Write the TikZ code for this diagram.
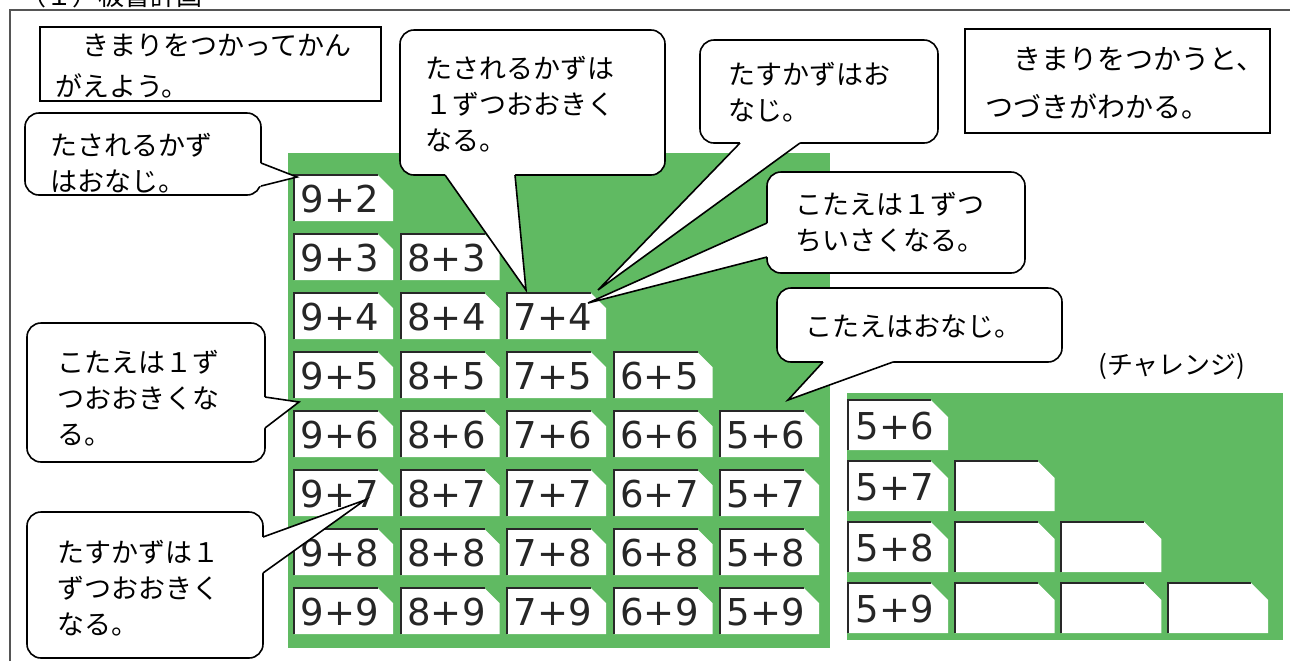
\documentclass[tikz,border=0pt]{standalone}
\usepackage{fontspec}
\newfontfamily\jpf{Noto Sans CJK JP}
\newfontfamily\numf{DejaVu Sans}
\definecolor{bgreen}{RGB}{96,186,98}
\definecolor{cardline}{RGB}{40,40,40}
\definecolor{frameline}{RGB}{85,85,85}
\tikzset{
  cl/.style={line width=0.8pt, draw=black},
  callbox/.style={cl, fill=white, rounded corners=7pt},
  wedgefill/.style={fill=white},
  jtext/.style={font=\jpf\fontsize{13.5pt}{18pt}\selectfont, align=left, inner sep=0pt, anchor=west, text=black},
  cardtxt/.style={font=\numf\fontsize{18.5pt}{20pt}\selectfont, inner sep=0pt, text=black!85},
  board/.style={fill=bgreen},
  plainbox/.style={draw=black, line width=1.3pt, fill=white},
}
\newcommand\cardshape[5]{% left top w h cut
  \fill[white] (#1,#2) -- ({#1+#3-#5},#2) -- ({#1+#3},{#2+#5}) -- ({#1+#3},{#2+#4}) -- (#1,{#2+#4}) -- cycle;
  \draw[cardline, line width=1pt] (#1,{#2+#4}) -- (#1,#2) -- ({#1+#3-#5},#2);
}
\begin{document}
\begin{tikzpicture}[x=0.5pt,y=-0.5pt]
\useasboundingbox (0,0) rectangle (1290,661);
\fill[white] (0,0) rectangle (1290,661);

% heading (cut by the page edge, as in the reference)
\node[font=\jpf\fontsize{13pt}{15pt}\selectfont, anchor=west, inner sep=0pt] (title) at (20,-4) {（１）板書計画};
\draw[frameline, line width=1pt] (10,661) -- (10,10) -- (1290,10);

% top boxes
\draw[plainbox] (40,27) rectangle (381,101);
\node[jtext, font=\jpf\fontsize{13.5pt}{20.5pt}\selectfont] (goal) at (55,66) {　きまりをつかってかん\\がえよう。};
\draw[plainbox, line width=1pt] (965,29) rectangle (1270,133);
\node[jtext, font=\jpf\fontsize{14pt}{24pt}\selectfont] (summary) at (985,83) {　きまりをつかうと、\\つづきがわかる。};

% main board
\fill[board] (288,153) rectangle (830,648);
\foreach \r in {0,...,7} {
  \foreach \c in {0,...,4} {
    \ifnum\c>\r\relax\else
      \pgfmathsetmacro\L{294+106.5*\c}
      \pgfmathsetmacro\T{175+59*\r}
      \pgfmathtruncatemacro\va{9-\c}
      \pgfmathtruncatemacro\vb{\r+2}
      \cardshape{\L}{\T}{99}{46}{15}
      \node[cardtxt] (m-\c-\r) at (\L+46,\T+24) {\va+\vb};
    \fi
  }
}

% challenge board
\node[font=\jpf\fontsize{13pt}{15pt}\selectfont, inner sep=0pt] (chal) at (1172,366) {(チャレンジ)};
\fill[board] (847,393) rectangle (1283,640);
\foreach \r in {0,...,3} {
  \foreach \c in {0,...,3} {
    \ifnum\c>\r\relax\else
      \pgfmathsetmacro\L{848+106.7*\c}
      \pgfmathsetmacro\T{400+61*\r}
      \pgfmathtruncatemacro\vb{\r+6}
      \cardshape{\L}{\T}{100}{50}{17}
      \ifnum\c=0
        \node[cardtxt] (ch-\r) at (\L+47,\T+26) {5+\vb};
      \fi
    \fi
  }
}

% callout 1
\draw[callbox] (25,113) rectangle (261,195);
\coordinate (c1a) at (261,163); \coordinate (c1b) at (261,186); \coordinate (c1t) at (297,177);
\fill[wedgefill] ([xshift=-1.5pt]c1a) -- (c1a) -- (c1t) -- (c1b) -- ([xshift=-1.5pt]c1b) -- cycle;
\draw[cl] (c1a) -- (c1t) -- (c1b);
\node[jtext] (t1) at (50,163) {たされるかず\\はおなじ。};

% callout 2
\draw[callbox] (400,30) rectangle (665,175);
\coordinate (c2a) at (445,175); \coordinate (c2b) at (515,175); \coordinate (c2t) at (526,290);
\fill[wedgefill] ([yshift=1.5pt]c2a) -- (c2a) -- (c2t) -- (c2b) -- ([yshift=1.5pt]c2b) -- cycle;
\draw[cl] (c2a) -- (c2t) -- (c2b);
\node[jtext] (t2) at (425,104) {たされるかずは\\１ずつおおきく\\なる。};

% callout 3
\draw[callbox] (700,40) rectangle (938,143);
\coordinate (c3a) at (740,143); \coordinate (c3b) at (800,143); \coordinate (c3t) at (598,290);
\fill[wedgefill] ([yshift=1.5pt]c3a) -- (c3a) -- (c3t) -- (c3b) -- ([yshift=1.5pt]c3b) -- cycle;
\draw[cl] (c3a) -- (c3t) -- (c3b);
\node[jtext] (t3) at (728,92) {たすかずはお\\なじ。};

% callout 4
\draw[callbox] (767,172) rectangle (1025,273);
\coordinate (c4a) at (767,223); \coordinate (c4b) at (767,257); \coordinate (c4t) at (588,303);
\fill[wedgefill] ([xshift=1.5pt]c4a) -- (c4a) -- (c4t) -- (c4b) -- ([xshift=1.5pt]c4b) -- cycle;
\draw[cl] (c4a) -- (c4t) -- (c4b);
\node[jtext] (t4) at (795,222) {こたえは１ずつ\\ちいさくなる。};

% callout 5
\draw[callbox] (777,288) rectangle (1062,362);
\coordinate (c5a) at (823,362); \coordinate (c5b) at (893,362); \coordinate (c5t) at (788,400);
\fill[wedgefill] ([yshift=1.5pt]c5a) -- (c5a) -- (c5t) -- (c5b) -- ([yshift=1.5pt]c5b) -- cycle;
\draw[cl] (c5a) -- (c5t) -- (c5b);
\node[jtext] (t5) at (805,326) {こたえはおなじ。};

% callout 6
\draw[callbox] (27,323) rectangle (265,462);
\coordinate (c6a) at (265,397); \coordinate (c6b) at (265,428); \coordinate (c6t) at (299,402);
\fill[wedgefill] ([xshift=-1.5pt]c6a) -- (c6a) -- (c6t) -- (c6b) -- ([xshift=-1.5pt]c6b) -- cycle;
\draw[cl] (c6a) -- (c6t) -- (c6b);
\node[jtext] (t6) at (57,398) {こたえは１ず\\つおおきくな\\る。};

% callout 7
\draw[callbox] (27,512) rectangle (263,658);
\coordinate (c7a) at (263,537); \coordinate (c7b) at (263,573); \coordinate (c7t) at (365,500);
\fill[wedgefill] ([xshift=-1.5pt]c7a) -- (c7a) -- (c7t) -- (c7b) -- ([xshift=-1.5pt]c7b) -- cycle;
\draw[cl] (c7a) -- (c7t) -- (c7b);
\node[jtext] (t7) at (57,588) {たすかずは１\\ずつおおきく\\なる。};
\end{tikzpicture}
\end{document}
